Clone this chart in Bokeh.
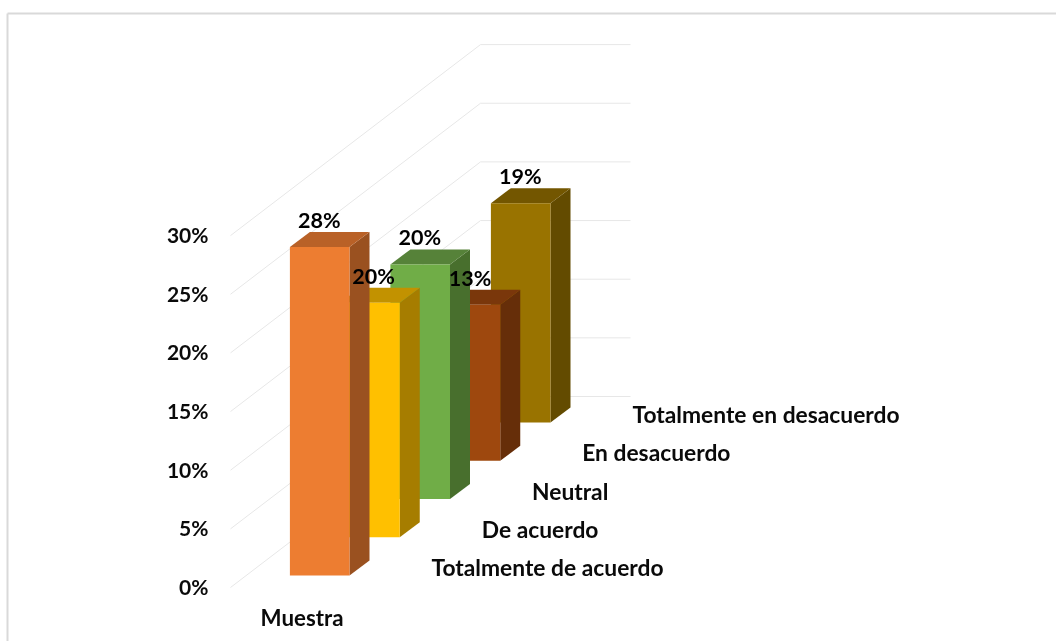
from bokeh.plotting import figure
from bokeh.embed import file_html
from bokeh.resources import INLINE
from bokeh.core.properties import value
from bokeh.models import Range1d

categories = ["Totalmente de acuerdo", "De acuerdo", "Neutral", "En desacuerdo", "Totalmente en desacuerdo"]
values = [28.0, 20.0, 20.0, 13.3, 18.7]
front_colors = ["#ED7D31", "#FFC000", "#70AD47", "#9E480E", "#997300"]
top_colors = ["#B96127", "#C29200", "#568239", "#7A370B", "#735600"]
side_colors = ["#9A5120", "#A67D00", "#486F2D", "#662E09", "#634B00"]
ticks = [0, 5, 10, 15, 20, 25, 30]
series_label = "Muestra"

W, H = 1056, 641
PX_PER_PCT = 11.73
X0, BASE = 289.4, 575.0
STEP_X, STEP_Y = 50.25, 38.25
BAR_W = 59.6
DEPTH_X, DEPTH_Y = 20.0, 15.0
FONT = value("Lato")

p = figure(width=W, height=H, output_backend="svg", toolbar_location=None,
           x_range=Range1d(0, W), y_range=Range1d(H, 0), min_border=0,
           outline_line_color=None, background_fill_color="white",
           border_fill_color="white")
p.styles = {"position": "fixed", "left": "0px", "top": "0px"}
p.axis.visible = False
p.grid.visible = False

# chart frame
p.line([7, 7], [H, 13], line_color="#D9D9D9", line_width=2)
p.line([7, W], [13, 13], line_color="#D9D9D9", line_width=2)

# slanted floor/wall gridlines
for t in ticks:
    p.line([230, 480, 630],
           [587 - t * PX_PER_PCT, 396 - t * PX_PER_PCT, 396 - t * PX_PER_PCT],
           line_color="#E7E7E7", line_width=1)

# bars, back to front
for i in reversed(range(len(values))):
    x0 = X0 + STEP_X * i
    x1 = x0 + BAR_W
    yb = BASE - STEP_Y * i
    yt = yb - values[i] * PX_PER_PCT
    p.patch([x1, x1 + DEPTH_X, x1 + DEPTH_X, x1],
            [yb, yb - DEPTH_Y, yt - DEPTH_Y, yt],
            fill_color=side_colors[i], line_color=None)
    p.patch([x0, x1, x1 + DEPTH_X, x0 + DEPTH_X],
            [yt, yt, yt - DEPTH_Y, yt - DEPTH_Y],
            fill_color=top_colors[i], line_color=None)
    p.patch([x0, x1, x1, x0], [yb, yb, yt, yt],
            fill_color=front_colors[i], line_color=None)

# data labels
for i, v in enumerate(values):
    x0 = X0 + STEP_X * i
    yt = BASE - STEP_Y * i - v * PX_PER_PCT
    p.text([x0 + (33.5 if i == 1 else 29.5)], [yt - 27], text=[f"{round(v)}%"],
           text_font=FONT, text_font_style="bold", text_font_size="21.5px",
           text_color="black", text_align="center", text_baseline="middle")

# value axis labels
p.text([208] * len(ticks), [586 - t * PX_PER_PCT for t in ticks],
       text=[f"{t}%" for t in ticks], text_font=FONT, text_font_style="bold",
       text_font_size="21px", text_color="#0A0A0A", text_align="right",
       text_baseline="middle")

# depth axis labels
p.text([431 + STEP_X * i for i in range(len(categories))],
       [566.5 - STEP_Y * i for i in range(len(categories))],
       text=categories, text_font=FONT, text_font_style="bold",
       text_font_size="22.8px", text_color="#0A0A0A", text_align="left",
       text_baseline="middle")

# series label
p.text([301.5], [616.5], text=[series_label], text_font=FONT, text_font_style="bold",
       text_font_size="22.3px", text_color="#0A0A0A", text_align="center",
       text_baseline="middle")

open("out.html", "w").write(file_html(p, INLINE))
